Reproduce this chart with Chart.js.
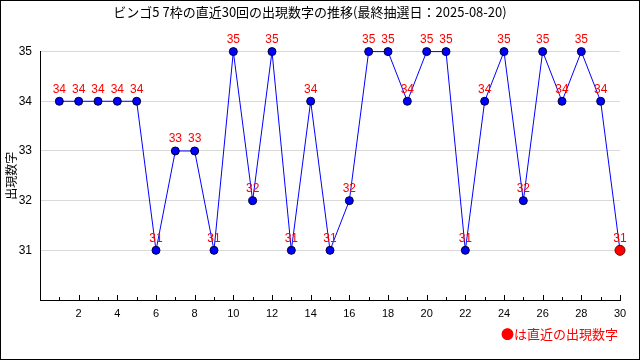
<!DOCTYPE html>
<html>
<head>
<meta charset="utf-8">
<script src="https://cdn.jsdelivr.net/npm/chart.js@4"></script>
<style>
  html, body { margin: 0; padding: 0; background: #fff; }
  #wrap { width: 640px; height: 360px; }
</style>
</head>
<body>
<div id="wrap"><canvas id="c" width="640" height="360"></canvas></div>
<script>
const TITLE = 'ビンゴ5 7枠の直近30回の出現数字の推移(最終抽選日：2025-08-20)';
const Y_TITLE = '出現数字';
const NOTE = '●は直近の出現数字';
const DRAWS = [1,2,3,4,5,6,7,8,9,10,11,12,13,14,15,16,17,18,19,20,21,22,23,24,25,26,27,28,29,30];
const NUMBERS = [34,34,34,34,34,31,33,33,31,35,32,35,31,34,31,32,35,35,34,35,35,31,34,35,32,35,34,35,34,31];
const Y_MIN = 30, Y_MAX = 35;

const JP = "'Noto Sans CJK JP', 'Liberation Sans', sans-serif";
const last = NUMBERS.length - 1;

const extras = {
  id: 'extras',
  afterDatasetsDraw(chart) {
    const ctx = chart.ctx;
    const xs = chart.scales.x, area = chart.chartArea;
    // inward tick marks on x axis
    ctx.save();
    ctx.strokeStyle = '#000';
    ctx.lineWidth = 1;
    DRAWS.forEach(d => {
      const px = Math.round(xs.getPixelForValue(d)) + 0.5;
      const len = d % 2 === 0 ? 5 : 3;
      ctx.beginPath();
      ctx.moveTo(px, area.bottom);
      ctx.lineTo(px, area.bottom - len);
      ctx.stroke();
    });
    // value labels
    const meta = chart.getDatasetMeta(0);
    ctx.fillStyle = '#ff0000';
    ctx.font = "12px 'Liberation Sans', sans-serif";
    ctx.textAlign = 'center';
    ctx.textBaseline = 'middle';
    meta.data.forEach((pt, i) => {
      ctx.fillText(String(NUMBERS[i]), pt.x, pt.y - 12);
    });
    // note at bottom right
    ctx.font = '13px ' + JP;
    ctx.textAlign = 'right';
    ctx.fillText(NOTE, 618, 334);
    // outer border
    ctx.strokeStyle = '#000';
    ctx.strokeRect(0.5, 0.5, 639, 359);
    ctx.restore();
  }
};

new Chart(document.getElementById('c'), {
  type: 'line',
  data: {
    datasets: [{
      data: DRAWS.map((d, i) => ({ x: d, y: NUMBERS[i] })),
      borderColor: '#0000ff',
      borderWidth: 1,
      tension: 0,
      clip: false,
      pointRadius: NUMBERS.map((_, i) => i === last ? 5 : 4),
      pointBackgroundColor: NUMBERS.map((_, i) => i === last ? '#ff0000' : '#0000ff'),
      pointBorderColor: NUMBERS.map((_, i) => i === last ? '#660000' : '#000033'),
      pointBorderWidth: 1
    }]
  },
  options: {
    responsive: false,
    animation: false,
    layout: { padding: { left: 0, right: 20, top: 0, bottom: 0 } },
    plugins: {
      legend: { display: false },
      tooltip: { enabled: false },
      title: {
        display: true,
        text: TITLE,
        color: '#000',
        font: { family: JP, size: 13, weight: 'normal' },
        padding: { top: 4, bottom: 32 }
      }
    },
    scales: {
      x: {
        type: 'linear',
        min: 0,
        max: 30,
        afterFit: s => { s.height = 60; },
        grid: { display: false, drawTicks: false },
        border: { color: '#000', width: 1 },
        ticks: {
          stepSize: 1,
          autoSkip: false,
          maxRotation: 0,
          padding: 7,
          color: '#000',
          font: { family: "'Liberation Sans', sans-serif", size: 11 },
          callback: v => (v > 0 && v % 2 === 0) ? String(v) : ''
        }
      },
      y: {
        min: Y_MIN,
        max: Y_MAX,
        afterFit: s => { s.width = 40; },
        grid: { color: '#d9d9d9', drawTicks: false },
        border: { color: '#000', width: 1 },
        title: {
          display: true,
          text: Y_TITLE,
          color: '#000',
          font: { family: JP, size: 12 },
          padding: { top: 4, bottom: 0 }
        },
        ticks: {
          stepSize: 1,
          padding: 8,
          color: '#000',
          font: { family: "'Liberation Sans', sans-serif", size: 12 },
          callback: v => v === Y_MIN ? '' : String(v)
        }
      }
    }
  },
  plugins: [extras]
});
</script>
</body>
</html>
